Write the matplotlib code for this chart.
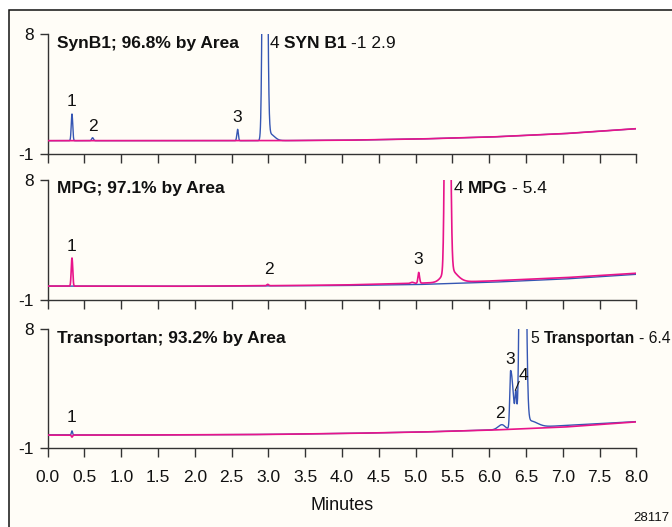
import numpy as np
import matplotlib
matplotlib.use("Agg")
import matplotlib.pyplot as plt
from matplotlib import font_manager
from matplotlib.patches import Rectangle

# ---------------- data ----------------
time_grid_end = 8.0
xticks = [0.0, 0.5, 1.0, 1.5, 2.0, 2.5, 3.0, 3.5, 4.0, 4.5, 5.0, 5.5, 6.0, 6.5, 7.0, 7.5, 8.0]
xtick_labels = ["0.0", "0.5", "1.0", "1.5", "2.0", "2.5", "3.0", "3.5", "4.0",
                "4.5", "5.0", "5.5", "6.0", "6.5", "7.0", "7.5", "8.0"]
yticks = [-1, 8]
ytick_labels = ["-1", "8"]

# baseline knots (minutes, absorbance) for each panel
base_t = [0.0, 1.0, 2.0, 3.0, 4.0, 5.0, 6.0, 7.0, 8.0]
p1_base_pink = [0.0, 0.0, 0.0, 0.0, 0.03, 0.12, 0.27, 0.52, 0.9]
p1_base_blue = [0.0, 0.0, 0.0, 0.0, 0.03, 0.12, 0.27, 0.52, 0.9]
p2_base_pink = [0.04, 0.03, 0.03, 0.07, 0.12, 0.25, 0.42, 0.66, 1.0]
p2_base_blue = [0.04, 0.03, 0.03, 0.06, 0.08, 0.15, 0.32, 0.56, 0.92]
p3_base_pink = [0.0, 0.0, 0.02, 0.05, 0.12, 0.22, 0.37, 0.6, 1.0]
p3_base_blue = [0.02, 0.0, 0.02, 0.05, 0.12, 0.22, 0.38, 0.72, 1.02]

# peaks: retention time, height, left width, right width
p1_blue_rt = [0.33, 0.61, 2.58, 2.95, 3.02]
p1_blue_h = [2.0, 0.22, 0.85, 60.0, 0.5]
p1_blue_wl = [0.010, 0.012, 0.010, 0.021, 0.02]
p1_blue_wr = [0.010, 0.012, 0.010, 0.023, 0.06]

p2_pink_rt = [0.33, 2.99, 4.95, 5.04, 5.43, 5.45]
p2_pink_h = [2.1, 0.1, 0.08, 0.8, 60.0, 1.0]
p2_pink_wl = [0.010, 0.012, 0.02, 0.010, 0.022, 0.08]
p2_pink_wr = [0.010, 0.012, 0.02, 0.012, 0.025, 0.10]

p3_blue_rt = [0.33, 6.17, 6.29, 6.36, 6.45, 6.55]
p3_blue_h = [0.3, 0.35, 4.4, 2.2, 60.0, 0.5]
p3_blue_wl = [0.008, 0.05, 0.012, 0.010, 0.025, 0.04]
p3_blue_wr = [0.008, 0.04, 0.035, 0.012, 0.030, 0.10]
p3_pink_rt = [0.33]
p3_pink_h = [-0.15]
p3_pink_wl = [0.008]
p3_pink_wr = [0.008]

titles = ["SynB1; 96.8% by Area", "MPG; 97.1% by Area", "Transportan; 93.2% by Area"]

# peak number labels (text, x, y) per panel
p1_peak_labels = ["1", "2", "3"]
p1_peak_x = [0.33, 0.62, 2.58]
p1_peak_y = [2.9, 1.05, 1.75]
p2_peak_labels = ["1", "2", "3"]
p2_peak_x = [0.33, 3.0, 5.04]
p2_peak_y = [3.0, 1.3, 2.0]
p3_peak_labels = ["1", "2", "3", "4"]
p3_peak_x = [0.33, 6.15, 6.28, 6.46]
p3_peak_y = [1.3, 1.6, 5.7, 4.5]

main_peak_num = ["4", "4", "5"]
main_peak_name = ["SYN B1", "MPG", "Transportan"]
main_peak_rt = ["-1 2.9", "- 5.4", "- 6.4"]
main_label_x = [3.02, 5.52, 6.56]

# ---------------- styling ----------------
def pick(names):
    avail = {f.name for f in font_manager.fontManager.ttflist}
    return [n for n in names if n in avail] + ["DejaVu Sans"]

FAM = pick(["Liberation Sans Narrow", "Liberation Sans"])
plt.rcParams["font.family"] = FAM

BLUE = "#3556b3"
PINK = "#e8148a"
INK = "#111111"
BG = "#fffdf7"

t = np.linspace(0.0, time_grid_end, 4001)


def trace(base_vals, rts, hs, wls, wrs):
    y = np.interp(t, base_t, base_vals)
    for rt, h, wl, wr in zip(rts, hs, wls, wrs):
        w = np.where(t < rt, wl, wr)
        y = y + h * np.exp(-0.5 * ((t - rt) / w) ** 2)
    return y


panels = [
    (trace(p1_base_blue, p1_blue_rt, p1_blue_h, p1_blue_wl, p1_blue_wr),
     trace(p1_base_pink, [], [], [], [])),
    (trace(p2_base_blue, [], [], [], []),
     trace(p2_base_pink, p2_pink_rt, p2_pink_h, p2_pink_wl, p2_pink_wr)),
    (trace(p3_base_blue, p3_blue_rt, p3_blue_h, p3_blue_wl, p3_blue_wr),
     trace(p3_base_pink, p3_pink_rt, p3_pink_h, p3_pink_wl, p3_pink_wr)),
]
peak_labels = [(p1_peak_labels, p1_peak_x, p1_peak_y),
               (p2_peak_labels, p2_peak_x, p2_peak_y),
               (p3_peak_labels, p3_peak_x, p3_peak_y)]

W, H = 672, 527
fig = plt.figure(figsize=(W / 100, H / 100), dpi=100)
fig.patch.set_facecolor("white")

# cream frame in a background axes
bg = fig.add_axes([0, 0, 1, 1], zorder=-10)
bg.set_xlim(0, W)
bg.set_ylim(H, 0)
bg.axis("off")
bg.add_patch(Rectangle((9, 10), W + 20, H + 20, facecolor=BG, edgecolor=INK,
                       linewidth=1.1))

left = 47.7 / W
width = (636.5 - 47.7) / W
tops = [34, 179.5, 329.3]
bottoms = [154, 300, 448.3]

FS = 12.5
FST = 12.5
main_fs = [12.5, 12.5, 11.3]
for i, (blue, pink) in enumerate(panels):
    ax = fig.add_axes([left, 1 - bottoms[i] / H, width, (bottoms[i] - tops[i]) / H])
    ax.patch.set_visible(False)
    ax.plot(t, blue, color=BLUE, lw=1.0, zorder=2)
    ax.plot(t, pink, color=PINK, lw=1.2, zorder=3)
    ax.set_xlim(0, 8)
    ax.set_ylim(-1, 8)
    for s in ["top", "right"]:
        ax.spines[s].set_visible(False)
    for s in ["left", "bottom"]:
        ax.spines[s].set_color("#333333")
        ax.spines[s].set_linewidth(1.0)
    ax.set_xticks(xticks)
    ax.set_yticks(yticks)
    ax.set_yticklabels(ytick_labels)
    ax.tick_params(axis="x", direction="out", length=6.5, width=1.0, color="#333333",
                   labelsize=FS, pad=9, labelcolor=INK)
    ax.tick_params(axis="y", direction="out", length=5.5, width=1.0, color="#333333",
                   labelsize=FS, pad=4.5, labelcolor=INK)
    if i == 2:
        ax.set_xticklabels(xtick_labels)
    else:
        ax.set_xticklabels([])

    ax.text(0.12, 7.3, titles[i], fontsize=FST, fontweight="bold", color=INK,
            ha="left", va="center")
    labs, lx, ly = peak_labels[i]
    for s, x, y in zip(labs, lx, ly):
        ax.text(x, y, s, fontsize=FS, color=INK, ha="center", va="center")

    fs = main_fs[i]
    t1 = ax.text(main_label_x[i], 7.3, main_peak_num[i], fontsize=fs, color=INK,
                 ha="left", va="center")
    t2 = ax.annotate(main_peak_name[i], xy=(1, 0), xycoords=t1, xytext=(3, 0),
                     textcoords="offset points", fontsize=fs, fontweight="bold",
                     color=INK, ha="left", va="bottom")
    ax.annotate(main_peak_rt[i], xy=(1, 0), xycoords=t2, xytext=(3, 0),
                textcoords="offset points", fontsize=fs, color=INK,
                ha="left", va="bottom")
    if i == 2:
        ax.plot([6.405, 6.355], [4.05, 3.4], color=INK, lw=0.8, zorder=4)

fig.text((47.7 + 636.5) / 2 / W, 1 - 506 / H, "Minutes", fontsize=13, color=INK,
         ha="center", va="center")
fig.text(669 / W, 1 - 518 / H, "28117", fontsize=9.5, color=INK, ha="right", va="center")

fig.savefig("out.png", dpi=100, facecolor=fig.get_facecolor())
